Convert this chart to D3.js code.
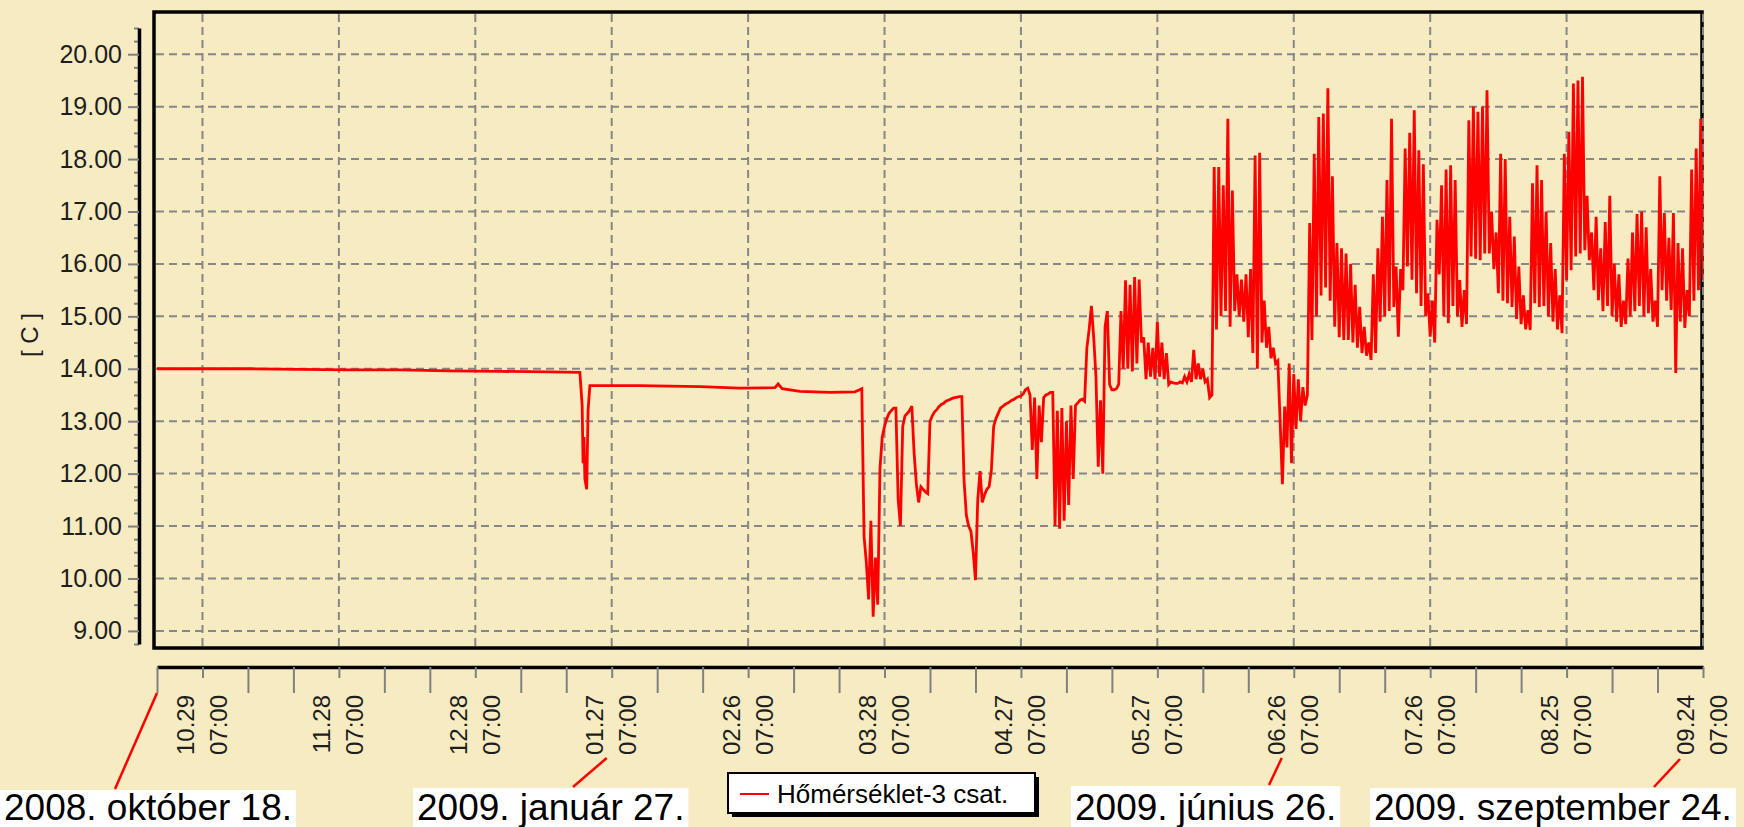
<!DOCTYPE html>
<html>
<head>
<meta charset="utf-8">
<script src="https://cdn.jsdelivr.net/npm/d3@7"></script>
<style>
    body { margin: 0; background: #f6ebc1; }
    #chart { width: 1744px; height: 827px; }
    text { font-family: "Liberation Sans", Arial, sans-serif; }
</style>
</head>
<body>
<div id="chart"></div>
<script>
// first and last reading of the logger
const firstReading = "2008-10-19T07:00:00Z";
const lastReading = "2009-09-24T07:00:00Z";

// winter: days after the first reading and the temperature [C]
const winterDays = [0, 20.5, 31.4, 42.4, 53.4, 64.4, 75.4, 86.4, 93.0, 93.5, 93.7, 93.9, 94.1, 94.5, 94.8,
    95.2, 106.2, 119.4, 128.2, 135.9, 136.6, 137.5, 141.4, 148.0, 153.5, 154.5];
const winterTemps = [14.0, 14.0, 13.99, 13.98, 13.98, 13.96, 13.95, 13.94, 13.93, 13.3, 12.2, 12.7, 11.9, 11.7, 13.2,
    13.68, 13.68, 13.66, 13.63, 13.64, 13.71, 13.62, 13.57, 13.55, 13.56, 13.6];

// from 2009-03-23 07:00 on: one reading every 12 hours
const halfDayStart = "2009-03-23T07:00:00Z";
const halfDayTemps = [
    13.62, 10.8, 10.3, 9.6, 11.1, 9.27, 10.4, 9.5, 12.1, 12.7,
    12.9, 13.05, 13.15, 13.2, 13.25, 13.25, 11.5, 11.0, 12.9, 13.1,
    13.15, 13.2, 13.29, 12.4, 11.8, 11.45, 11.75, 11.7, 11.65, 11.62,
    13.0, 13.1, 13.18, 13.22, 13.28, 13.32, 13.34, 13.38, 13.4, 13.42,
    13.44, 13.45, 13.46, 13.47, 13.47, 11.85, 11.2, 11.0, 10.9, 10.5,
    9.97, 11.5, 12.05, 11.45, 11.6, 11.7, 11.75, 12.07, 12.9, 13.05,
    13.15, 13.25, 13.28, 13.32, 13.34, 13.37, 13.4, 13.42, 13.45, 13.47,
    13.48, 13.52, 13.6, 13.63, 13.5, 12.45, 13.45, 11.9, 13.3, 12.6,
    13.45, 13.5, 13.52, 13.55, 13.55, 11.0, 13.2, 10.95, 13.25, 11.1,
    13.0, 11.4, 13.3, 11.9, 13.3, 13.35, 13.4, 13.42, 13.38, 14.4,
    14.75, 15.2, 14.6, 13.85, 12.13, 13.4, 12.0, 14.8, 15.1, 13.7,
    13.6, 13.6, 13.62, 13.7, 15.1, 14.0, 15.69, 14.0, 15.6, 13.95,
    15.75, 14.1, 15.7, 14.5, 14.6, 13.8, 14.5, 13.85, 14.4, 13.8,
    14.9, 13.85, 14.5, 13.8, 14.3, 13.7, 13.75, 13.73, 13.72, 13.72,
    13.75, 13.73, 13.85, 13.75, 13.9, 13.75, 14.36, 13.8, 14.1, 13.8,
    14.0, 13.75, 13.8, 13.45, 13.5, 17.85, 14.75, 17.85, 15.0, 17.5,
    15.1, 18.77, 14.8, 17.4, 15.1, 15.8, 15.0, 15.7, 14.9, 15.8,
    14.6, 15.9, 14.3, 18.07, 14.0, 18.12, 14.5, 15.3, 14.4, 14.8,
    14.2, 14.4, 14.1, 14.15, 13.0, 11.8, 13.28, 12.5, 14.1, 12.2,
    13.9, 12.85, 13.8, 13.0, 13.65, 13.3, 13.5, 16.78, 14.55, 18.1,
    15.0, 18.8, 15.4, 18.87, 15.55, 19.35, 15.3, 17.67, 14.8, 16.4,
    14.6, 16.3, 14.55, 16.2, 14.55, 16.0, 14.5, 15.6, 14.4, 15.18,
    14.3, 14.8, 14.25, 14.5, 14.17, 15.8, 14.3, 16.3, 14.9, 16.9,
    15.0, 17.6, 15.1, 18.77, 15.18, 15.95, 14.61, 15.9, 15.5, 18.2,
    15.95, 18.5, 15.7, 18.93, 15.44, 18.17, 15.2, 17.9, 15.0, 15.44,
    14.61, 15.3, 14.5, 16.84, 15.8, 17.5, 15.0, 17.8, 14.87, 17.88,
    15.2, 17.6, 15.0, 15.69, 14.8, 15.5, 14.85, 18.74, 16.14, 19.0,
    16.1, 18.9, 16.07, 19.0, 16.2, 19.31, 16.2, 17.0, 15.9, 16.6,
    15.44, 18.1, 15.3, 18.0, 15.25, 16.9, 15.18, 16.52, 14.95, 15.95,
    14.85, 15.4, 14.75, 15.12, 14.74, 17.54, 15.25, 17.88, 15.18, 17.6,
    15.2, 17.0, 15.0, 16.4, 14.9, 15.9, 14.75, 15.4, 14.68, 18.1,
    15.69, 18.52, 15.88, 19.44, 16.14, 19.5, 16.2, 19.57, 16.26, 17.3,
    16.07, 16.6, 15.5, 16.9, 15.31, 16.3, 15.1, 16.8, 15.2, 17.3,
    15.0, 16.0, 14.9, 15.8, 14.8, 15.3, 14.85, 16.1, 15.0, 16.6,
    15.1, 16.95, 15.2, 17.0, 15.0, 16.7, 15.06, 15.9, 14.9, 15.3,
    14.8, 17.67, 15.5, 16.97, 15.3, 16.5, 15.12, 16.97, 13.92, 16.4,
    14.9, 16.3, 14.78, 15.5, 15.0, 17.8, 15.3, 18.2, 15.5, 18.77,
    15.7
];

const yTicks = [9, 10, 11, 12, 13, 14, 15, 16, 17, 18, 19, 20];
const yDomain = [8.75, 20.5];
const seriesName = "Hőmérséklet-3 csat.";
const axisTitle = "[ C ]";

const callouts = [
    { date: "2008-10-19T07:00:00Z", text: "2008. október 18." },
    { date: "2009-01-27T07:00:00Z", text: "2009. január 27." },
    { date: "2009-06-26T07:00:00Z", text: "2009. június 26." },
    { date: "2009-09-24T07:00:00Z", text: "2009. szeptember 24." }
];

class TemperatureChart {
    constructor(parentElement) {
        this.parentElement = parentElement;
        this.displayData = [];
        this.initVis();
    }

    initVis() {
        let vis = this;

        vis.width = 1744;
        vis.height = 827;
        vis.frame = { left: 154, top: 12, right: 1702, bottom: 648 };

        vis.svg = d3.select(`#${vis.parentElement}`).append("svg")
            .attr("width", vis.width)
            .attr("height", vis.height);

        vis.svg.append("rect")
            .attr("width", vis.width)
            .attr("height", vis.height)
            .attr("fill", "#f6ebc1");

        vis.start = new Date(firstReading);
        vis.end = new Date(lastReading);

        vis.x = d3.scaleUtc().domain([vis.start, vis.end]).range([157, 1703]);
        vis.y = d3.scaleLinear().domain(yDomain).range([644, 28]);

        vis.wrangleData();
    }

    wrangleData() {
        let vis = this;
        const dayMs = 864e5;

        vis.displayData = winterDays.map((d, i) => ({
            date: new Date(vis.start.getTime() + d * dayMs),
            temp: winterTemps[i]
        }));
        const halfStart = new Date(halfDayStart).getTime();
        halfDayTemps.forEach((t, i) => {
            vis.displayData.push({ date: new Date(halfStart + i * dayMs / 2), temp: t });
        });

        // ticks every 10 days, labelled every 30 days
        vis.minorDates = d3.range(0, 341, 10).map(d => d3.utcDay.offset(vis.start, d));
        vis.majorDates = d3.range(10, 341, 30).map(d => d3.utcDay.offset(vis.start, d));

        vis.updateVis();
    }

    updateVis() {
        let vis = this;
        const f = vis.frame;

        // plot frame
        vis.svg.append("rect")
            .attr("x", f.left)
            .attr("y", f.top)
            .attr("width", f.right - f.left)
            .attr("height", f.bottom - f.top)
            .attr("fill", "none")
            .attr("stroke", "#000")
            .attr("stroke-width", 3.5);

        // dashed grid
        const grid = vis.svg.append("g").attr("class", "grid")
            .attr("stroke", "#878787")
            .attr("stroke-width", 2)
            .attr("stroke-dasharray", "8,5");
        grid.selectAll("line.h").data(yTicks).enter().append("line")
            .attr("class", "h")
            .attr("x1", f.left + 2)
            .attr("x2", f.right)
            .attr("y1", d => vis.y(d))
            .attr("y2", d => vis.y(d));
        grid.selectAll("line.v").data(vis.majorDates).enter().append("line")
            .attr("class", "v")
            .attr("x1", d => vis.x(d))
            .attr("x2", d => vis.x(d))
            .attr("y1", f.top + 2)
            .attr("y2", f.bottom);

        // temperature line
        vis.svg.append("clipPath").attr("id", "plot-clip")
            .append("rect")
            .attr("x", f.left)
            .attr("y", f.top)
            .attr("width", f.right - f.left + 1)
            .attr("height", f.bottom - f.top);

        const line = d3.line()
            .x(d => vis.x(d.date))
            .y(d => vis.y(d.temp));

        vis.svg.append("path")
            .datum(vis.displayData)
            .attr("clip-path", "url(#plot-clip)")
            .attr("fill", "none")
            .attr("stroke", "#ff0000")
            .attr("stroke-width", 2.8)
            .attr("stroke-linejoin", "miter")
            .attr("d", line);

        // y axis
        const minorY = d3.range(yDomain[0], yDomain[1] + 0.01, 0.25).filter(v => v % 1 !== 0);
        vis.svg.append("g")
            .attr("class", "y-minor")
            .attr("transform", "translate(139,0)")
            .call(d3.axisLeft(vis.y).tickValues(minorY).tickSize(5).tickFormat(""))
            .call(g => g.select(".domain").remove());

        vis.svg.append("g")
            .attr("class", "y-axis axis")
            .attr("transform", "translate(139,0)")
            .call(d3.axisLeft(vis.y).tickValues(yTicks).tickSize(11).tickSizeOuter(0).tickPadding(6)
                .tickFormat(d3.format(".2f")));

        vis.svg.selectAll(".y-axis .domain, .y-minor .domain")
            .attr("stroke", "#000")
            .attr("stroke-width", 3.5);
        vis.svg.selectAll(".y-axis .tick line, .y-minor .tick line")
            .attr("stroke", "#808080")
            .attr("stroke-width", 2);
        vis.svg.selectAll(".y-axis .tick text")
            .attr("font-size", "25px")
            .attr("fill", "#1e1e1e");

        vis.svg.append("text")
            .attr("class", "y-axis-label")
            .attr("transform", "translate(30,335) rotate(-90)")
            .attr("text-anchor", "middle")
            .attr("dy", "0.35em")
            .attr("font-size", "24px")
            .attr("fill", "#1e1e1e")
            .text(axisTitle);

        // x axis: long ticks every 10 days, short ticks at the labelled dates
        const majorTimes = new Set(vis.majorDates.map(d => d.getTime()));
        vis.svg.append("g")
            .attr("class", "x-axis axis")
            .attr("transform", "translate(0,667)")
            .call(d3.axisBottom(vis.x)
                .tickValues(vis.minorDates.filter(d => !majorTimes.has(d.getTime())))
                .tickSize(26).tickSizeOuter(0).tickFormat(""));
        vis.svg.append("g")
            .attr("class", "x-major")
            .attr("transform", "translate(0,667)")
            .call(d3.axisBottom(vis.x).tickValues(vis.majorDates).tickSize(11).tickFormat(""))
            .call(g => g.select(".domain").remove());

        vis.svg.selectAll(".x-axis .domain")
            .attr("stroke", "#000")
            .attr("stroke-width", 3.5);
        vis.svg.selectAll(".x-axis .tick line, .x-major .tick line")
            .attr("stroke", "#808080")
            .attr("stroke-width", 2);

        // rotated two-line labels (date and hour)
        const fmtDay = d3.utcFormat("%m.%d");
        const fmtHour = d3.utcFormat("%H:%M");
        const labels = vis.svg.append("g").attr("class", "x-labels")
            .attr("font-size", "24px")
            .attr("fill", "#1e1e1e");
        vis.majorDates.forEach(d => {
            [[fmtDay(d), -17], [fmtHour(d), 16]].forEach(([txt, dx]) => {
                labels.append("text")
                    .attr("transform", `translate(${vis.x(d) + dx},695) rotate(-90)`)
                    .attr("text-anchor", "end")
                    .attr("dy", "0.35em")
                    .text(txt);
            });
        });

        // date callouts with red leader lines
        const calloutLayout = [
            { boxX: 0, boxY: 790, fromDx: 0, fromY: 693, toX: 115, toY: 789 },
            { boxX: 413, boxY: 788, fromDx: -5, fromY: 758, toX: 573, toY: 787 },
            { boxX: 1071, boxY: 786, fromDx: -12, fromY: 758, toX: 1269, toY: 785 },
            { boxX: 1370, boxY: 788, fromDx: -23, fromY: 759, toX: 1654, toY: 787 }
        ];
        callouts.forEach((c, i) => {
            const l = calloutLayout[i];
            const g = vis.svg.append("g").attr("class", "callout");
            const box = g.append("rect")
                .attr("x", l.boxX)
                .attr("y", l.boxY)
                .attr("height", vis.height - l.boxY + 2)
                .attr("fill", "#fff");
            const t = g.append("text")
                .attr("x", l.boxX + 4)
                .attr("y", 820)
                .attr("font-size", "37px")
                .attr("fill", "#000")
                .text(c.text);
            box.attr("width", t.node().getComputedTextLength() + 8);
            g.append("line")
                .attr("x1", vis.x(new Date(c.date)) + l.fromDx)
                .attr("y1", l.fromY)
                .attr("x2", l.toX)
                .attr("y2", l.toY)
                .attr("stroke", "#ff0000")
                .attr("stroke-width", 2.5);
        });

        // legend
        let legend = vis.svg.append("g")
            .attr("class", "legend")
            .attr("transform", "translate(728,773)");
        legend.append("rect")
            .attr("x", 4)
            .attr("y", 4)
            .attr("width", 307)
            .attr("height", 40)
            .attr("fill", "#000");
        legend.append("rect")
            .attr("width", 307)
            .attr("height", 40)
            .attr("fill", "#fff")
            .attr("stroke", "#000")
            .attr("stroke-width", 2);
        legend.append("line")
            .attr("x1", 12)
            .attr("x2", 41)
            .attr("y1", 21)
            .attr("y2", 21)
            .attr("stroke", "#ff0000")
            .attr("stroke-width", 2);
        legend.append("text")
            .attr("x", 49)
            .attr("y", 30)
            .attr("font-size", "26px")
            .attr("fill", "#000")
            .text(seriesName);
    }
}

new TemperatureChart("chart");
</script>
</body>
</html>
